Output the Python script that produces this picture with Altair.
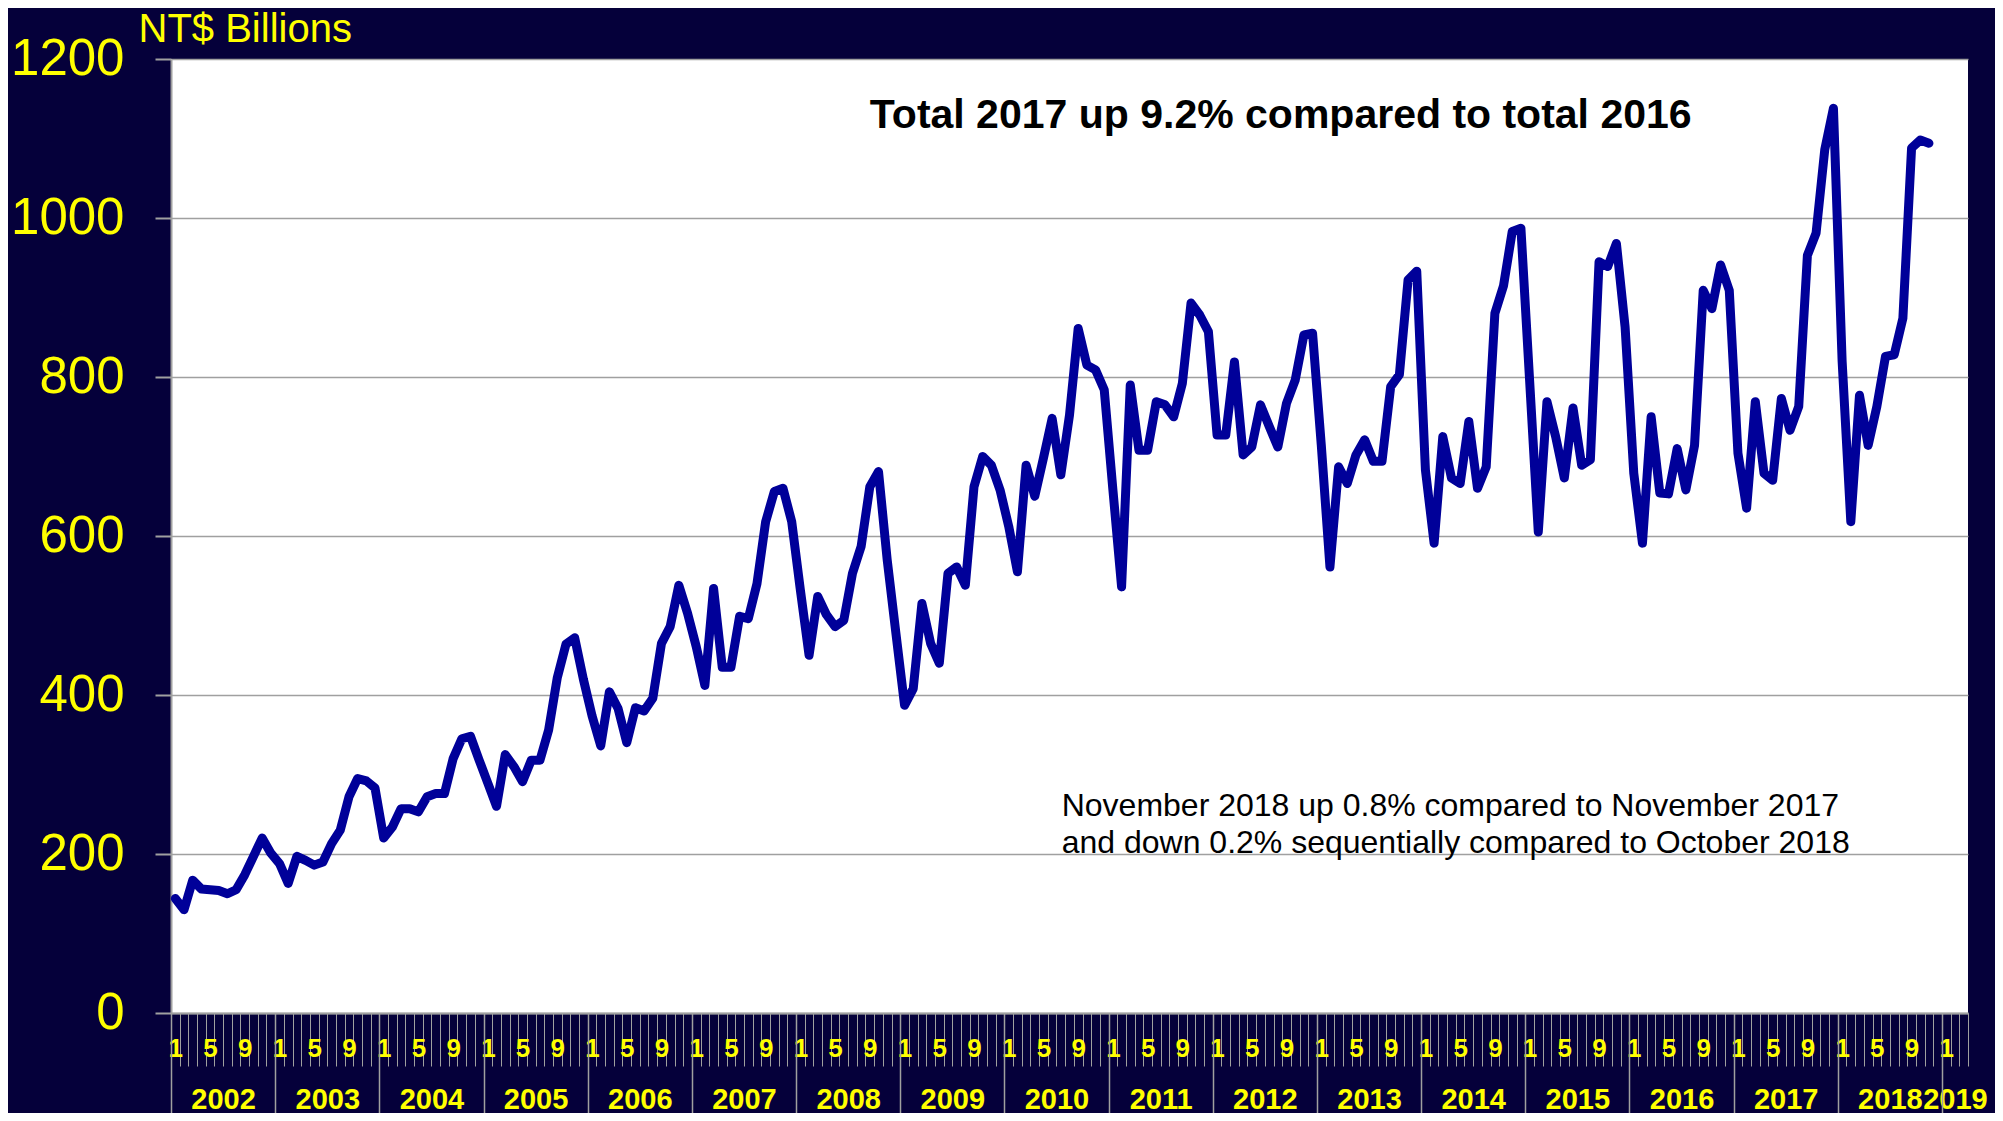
import altair as alt
import pandas as pd

# ---- monthly values, NT$ billions ----
v2002 = [144, 130, 167, 156, 155, 154, 150, 155, 174, 197, 220, 201]
v2003 = [188, 163, 197, 192, 186, 190, 213, 230, 272, 295, 292, 283]
v2004 = [220, 234, 257, 257, 253, 272, 276, 276, 320, 345, 348, 318]
v2005 = [289, 260, 325, 310, 291, 318, 318, 356, 422, 464, 472, 420]
v2006 = [374, 336, 404, 383, 340, 384, 380, 396, 465, 486, 538, 503]
v2007 = [461, 412, 534, 435, 435, 499, 496, 540, 618, 656, 660, 618]
v2008 = [532, 450, 524, 501, 486, 494, 553, 587, 662, 681, 570, 478]
v2009 = [387, 408, 515, 465, 440, 553, 561, 538, 662, 700, 689, 658]
v2010 = [612, 555, 689, 650, 698, 748, 677, 752, 861, 815, 809, 784]
v2011 = [658, 536, 790, 708, 708, 769, 765, 750, 792, 893, 878, 857]
v2012 = [727, 727, 819, 702, 712, 765, 738, 712, 767, 796, 853, 855]
v2013 = [715, 561, 687, 666, 702, 721, 694, 694, 788, 803, 922, 933]
v2014 = [683, 591, 725, 673, 666, 744, 660, 687, 880, 915, 983, 987]
v2015 = [796, 605, 769, 725, 673, 761, 689, 696, 945, 939, 968, 863]
v2016 = [679, 591, 750, 654, 653, 710, 658, 714, 909, 886, 941, 909]
v2017 = [704, 635, 769, 679, 670, 773, 733, 763, 953, 981, 1086, 1138]
v2018 = [820, 618, 777, 714, 763, 826, 828, 874, 1088, 1098, 1094]

monthly = (v2002 + v2003 + v2004 + v2005 + v2006 + v2007 + v2008 + v2009
           + v2010 + v2011 + v2012 + v2013 + v2014 + v2015 + v2016 + v2017 + v2018)

first_year = 2002
label_months = [1, 5, 9]
y_ticks = [0, 200, 400, 600, 800, 1000, 1200]
n_slots = 207          # Jan 2002 .. Mar 2019 month slots on the axis

title_text = "Total 2017 up 9.2% compared to total 2016"
note_text = ["November 2018 up 0.8% compared to November 2017",
             "and down 0.2% sequentially compared to October 2018"]
y_title = "NT$ Billions"

df = pd.DataFrame({"value": monthly})
df["slot"] = df.index + 0.5

# ---- style ----
W, H = 1797, 954
BG = "#05003a"
YEL = "#ffff00"
GRAY = "#a0a0a0"
FONT = "Liberation Sans"

xscale = alt.Scale(domain=[0, n_slots], nice=False, zero=False)
yscale = alt.Scale(domain=[0, 1200], nice=False)

month_bounds = list(range(0, n_slots + 1))
month_label_pos = [i + 0.5 for i in range(n_slots) if (i % 12 + 1) in label_months]
n_years = n_slots // 12
year_label_pos = [12 * k + 6 for k in range(n_years)] + [12 * n_years + (n_slots - 12 * n_years) / 2]
year_bounds = [12 * k for k in range(n_years + 1)]

line = alt.Chart(df).mark_line(
    color="#000099", strokeWidth=9, strokeJoin="round", strokeCap="round"
).encode(
    x=alt.X("slot:Q", scale=xscale, axis=alt.Axis(
        values=month_bounds, labels=False, tickSize=53, tickColor=GRAY, tickWidth=1,
        domainColor=GRAY, domainWidth=2, grid=False, title=None, orient="bottom")),
    y=alt.Y("value:Q", scale=yscale, axis=alt.Axis(
        values=y_ticks, format="d", labelFont=FONT, labelFontSize=51, labelColor=YEL,
        labelPadding=31, tickSize=16, tickColor=GRAY, tickWidth=2,
        domainColor=GRAY, domainWidth=2, grid=True, gridColor=GRAY, gridWidth=1.5,
        title=y_title, titleFont=FONT, titleFontSize=40, titleFontWeight="normal",
        titleColor=YEL, titleAngle=0, titleAlign="left", titleBaseline="alphabetic",
        titleX=-33, titleY=-18, orient="left")),
)

month_axis = alt.Chart(df).mark_point(opacity=0).encode(
    x=alt.X("slot:Q", scale=xscale, axis=alt.Axis(
        values=month_label_pos, labelExpr="toString(floor(datum.value) % 12 + 1)",
        ticks=False, tickSize=0, domain=False, grid=False, labelPadding=35,
        labelBaseline="middle", labelFont=FONT, labelFontSize=26, labelFontWeight="bold",
        labelColor=YEL, labelOverlap=False, labelFlush=False, labelBound=False,
        title=None, orient="bottom")),
)

year_axis = alt.Chart(df).mark_point(opacity=0).encode(
    x=alt.X("slot:Q", scale=xscale, axis=alt.Axis(
        values=year_label_pos, labelExpr="toString(%d + floor(datum.value / 12))" % first_year,
        ticks=False, tickSize=0, domain=False, grid=False, labelPadding=86,
        labelBaseline="middle", labelFont=FONT, labelFontSize=29, labelFontWeight="bold",
        labelColor=YEL, labelOverlap=False, labelFlush=False, labelBound=False,
        title=None, orient="bottom")),
)

year_ticks = alt.Chart(df).mark_point(opacity=0).encode(
    x=alt.X("slot:Q", scale=xscale, axis=alt.Axis(
        values=year_bounds, labels=False, tickSize=110, tickColor=GRAY, tickWidth=1.5,
        domain=False, grid=False, title=None, orient="bottom")),
)

one = pd.DataFrame({"k": [0]})
title_mark = alt.Chart(one).mark_text(
    text=title_text, font=FONT, fontSize=41, fontWeight="bold", color="black",
    align="left", baseline="alphabetic"
).encode(
    x=alt.XDatum(80.5, type="quantitative", scale=xscale, axis=None),
    y=alt.YDatum(1113, type="quantitative", scale=yscale, axis=None),
)

note_mark = alt.Chart(one).mark_text(
    text=note_text, font=FONT, fontSize=32, color="black", lineHeight=37,
    align="left", baseline="alphabetic"
).encode(
    x=alt.XDatum(102.6, type="quantitative", scale=xscale, axis=None),
    y=alt.YDatum(248, type="quantitative", scale=yscale, axis=None),
)

chart = alt.layer(
    line, month_axis, year_axis, year_ticks, title_mark, note_mark
).resolve_scale(x="independent", y="independent").properties(
    width=W, height=H,
    autosize=alt.AutoSizeParams(type="none"),
    padding={"left": 163, "top": 51, "right": 27, "bottom": 100},
    background=BG,
).configure_view(fill="white", stroke=None)

chart.save("out.html", embed_options={"renderer": "svg", "actions": False})
